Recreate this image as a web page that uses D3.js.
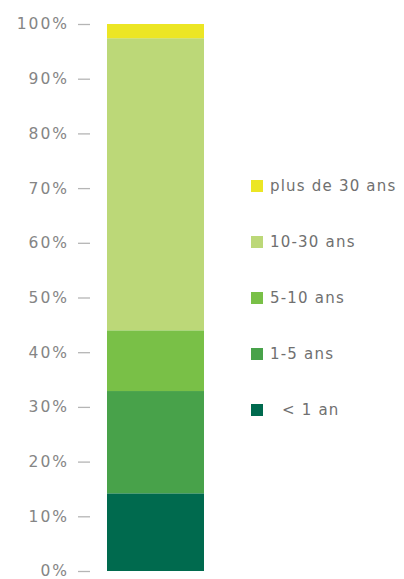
<!DOCTYPE html>
<html>
<head>
<meta charset="utf-8">
<script src="https://cdn.jsdelivr.net/npm/d3@7"></script>
<style>
  body { margin: 0; background: #fff; }
  text { font-family: "DejaVu Sans", sans-serif; }
</style>
</head>
<body>
<div id="chart"></div>
<script>
// data (percent)
var categories = ["< 1 an", "1-5 ans", "5-10 ans", "10-30 ans", "plus de 30 ans"];
var legendLabels = ["\u00a0 < 1 an", "1-5 ans", "5-10 ans", "10-30 ans", "plus de 30 ans"];
var values = [14.2, 18.7, 11.1, 53.4, 2.6];
var colors = ["#006a4e", "#48a24a", "#79c047", "#bcd878", "#ece624"];
var yTicks = [0, 10, 20, 30, 40, 50, 60, 70, 80, 90, 100];

var svgWidth = 404, svgHeight = 579;

var svg = d3.select("#chart").append("svg")
  .attr("width", svgWidth)
  .attr("height", svgHeight);

// y scale: 0% at bottom, 100% at top
var yScale = d3.scaleLinear()
  .domain([0, 100])
  .range([571, 24]);

var xScale = d3.scaleBand()
  .domain(["all"])
  .range([107, 204])
  .padding(0);

// stack the segments
var stacked = [];
var acc = 0;
values.forEach(function(v, i) {
  stacked.push({ cat: categories[i], y0: acc, y1: acc + v, color: colors[i] });
  acc += v;
});

svg.append("g").selectAll("rect")
  .data(stacked)
  .enter()
  .append("rect")
  .attr("x", xScale("all"))
  .attr("width", xScale.bandwidth())
  .attr("y", d => yScale(d.y1))
  .attr("height", d => yScale(d.y0) - yScale(d.y1))
  .attr("fill", d => d.color);

// y axis: short dashes, labels on the left
var leftAxis = d3.axisLeft(yScale)
  .tickValues(yTicks)
  .tickFormat(d => d + "%")
  .tickSize(12)
  .tickPadding(9);

var axisG = svg.append("g")
  .attr("transform", "translate(90, 0)")
  .call(leftAxis);

axisG.select(".domain").remove();
axisG.selectAll(".tick line")
  .attr("stroke", "#b5b5b5")
  .attr("stroke-width", 1.3);
axisG.selectAll(".tick text")
  .attr("fill", "#858585")
  .style("font-size", "15.5px")
  .style("letter-spacing", "2px")
  .style("font-family", "'DejaVu Sans', sans-serif");

// legend, top item is the last series
var legendOrder = [4, 3, 2, 1, 0];
var legend = svg.append("g").selectAll("g")
  .data(legendOrder)
  .enter()
  .append("g")
  .attr("transform", (d, i) => `translate(251, ${186 + i * 56})`);

legend.append("rect")
  .attr("x", 0)
  .attr("y", -6)
  .attr("width", 12)
  .attr("height", 12)
  .attr("fill", d => colors[d]);

legend.append("text")
  .attr("x", 19)
  .attr("y", 0)
  .attr("dy", "0.35em")
  .attr("fill", "#707070")
  .style("font-size", "15px")
  .style("letter-spacing", "1.2px")
  .text(d => legendLabels[d]);
</script>
</body>
</html>
